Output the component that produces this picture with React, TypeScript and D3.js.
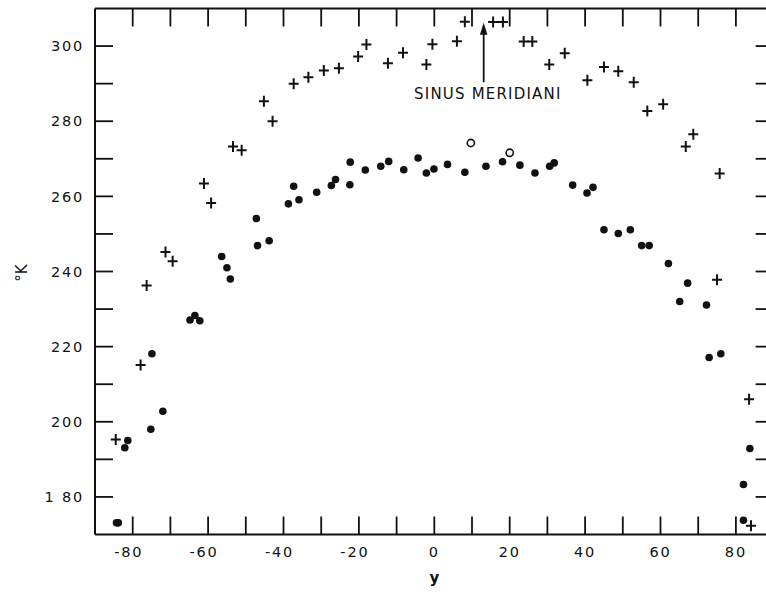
import React from 'react';
import * as d3 from 'd3';

// latitude (deg) vs brightness temperature (K)
const crossLat = [-84.5, -77.9, -76.3, -71.3, -69.4, -61.1, -59.2, -53.4, -51.1, -45.2, -42.9, -37.3, -33.4, -29.3, -25.3, -20.2, -18.0, -12.3, -8.3, -2.1, -0.5, 6.0, 8.1, 15.6, 18.2, 23.7, 26.0, 30.5, 34.6, 40.6, 45.0, 48.8, 52.9, 56.5, 60.7, 66.7, 68.7, 75.7, 75.0, 83.5, 84.0];
const crossTemp = [195.3, 215.1, 236.3, 245.2, 242.7, 263.4, 258.2, 273.3, 272.3, 285.3, 280, 290, 291.7, 293.5, 294.1, 297.2, 300.4, 295.4, 298.2, 295.1, 300.5, 301.3, 306.5, 306.4, 306.4, 301.2, 301.2, 295.1, 298.1, 290.9, 294.4, 293.3, 290.4, 282.7, 284.5, 273.3, 276.5, 266.1, 237.8, 206, 172.3];

const dotLat = [-84.3, -83.8, -82.1, -81.3, -75.2, -72.0, -74.9, -64.8, -63.5, -62.2, -56.4, -55.0, -54.1, -47.2, -46.9, -43.8, -38.7, -37.3, -35.9, -31.2, -27.3, -26.2, -22.3, -22.4, -18.3, -14.2, -12.1, -8.1, -4.3, -2.1, -0.1, 3.5, 8.1, 13.7, 18.1, 22.7, 26.7, 30.6, 31.8, 36.7, 40.5, 42.1, 45.0, 48.8, 52.0, 55.0, 57.0, 62.1, 67.2, 65.1, 72.2, 72.9, 76.0, 83.7, 82.0, 82.0];
const dotTemp = [173.1, 173.1, 193.1, 195, 198, 202.8, 218.1, 227.1, 228.3, 226.9, 244, 241, 238, 254.1, 246.9, 248.2, 258, 262.7, 259.1, 261.1, 262.9, 264.5, 269.1, 263.1, 267, 268, 269.3, 267.1, 270.2, 266.2, 267.3, 268.5, 266.4, 268, 269.2, 268.3, 266.2, 268, 268.9, 263, 260.9, 262.4, 251.1, 250.1, 251.1, 246.9, 246.9, 242.1, 236.9, 232, 231.1, 217.1, 218.1, 192.9, 183.3, 173.8];

const openLat = [9.7, 20.0];
const openTemp = [274.2, 271.6];

const xTickValues = [-80, -70, -60, -50, -40, -30, -20, -10, 0, 10, 20, 30, 40, 50, 60, 70, 80];
const xLabelValues = [-80, -60, -40, -20, 0, 20, 40, 60, 80];
const xTickLabels = ['-80', '-60', '-40', '-20', '0', '20', '40', '60', '80'];
const yTickValues = [180, 190, 200, 210, 220, 230, 240, 250, 260, 270, 280, 290, 300];
const yLabelValues = [180, 200, 220, 240, 260, 280, 300];
const yTickLabels = ['1 80', '200', '220', '240', '260', '280', '300'];

const annotation = 'SINUS MERIDIANI';
const arrowLat = 13.1;
const arrowFrom = 290.4;
const arrowTo = 306.2;
const annotationLat = 14.2;
const annotationTemp = 285.9;

const FONT = '"DejaVu Sans", sans-serif';
const INK = '#111';

export default function App() {
  const width = 766;
  const height = 592;
  const x = d3.scaleLinear().domain([-90, 90]).range([95, 773.6]);
  const y = d3.scaleLinear().domain([170, 310]).range([534.5, 8.5]);
  const [x0, x1] = x.range();
  const [yb, yt] = y.range();
  const tick = 18;

  return (
    <svg
      width={width}
      height={height}
      style={{ position: 'absolute', left: 0, top: 0, background: '#fff' }}
      fontFamily={FONT}
    >
      <rect width={width} height={height} fill="#fff" />
      {/* frame */}
      <g stroke={INK} strokeWidth={2} fill="none">
        <line x1={x0} x2={x1} y1={yt} y2={yt} />
        <line x1={x0} x2={x1} y1={yb} y2={yb} />
        <line x1={x0} x2={x0} y1={yt} y2={yb} />
        <line x1={x1} x2={x1} y1={yt} y2={yb} />
      </g>
      <g stroke={INK} strokeWidth={1.8}>
        {xTickValues.map((v) => (
          <g key={`xt${v}`}>
            <line x1={x(v)} x2={x(v)} y1={yt} y2={yt + tick} />
            <line x1={x(v)} x2={x(v)} y1={yb} y2={yb - tick} />
          </g>
        ))}
        {yTickValues.map((v) => (
          <g key={`yt${v}`}>
            <line x1={x0} x2={x0 + tick} y1={y(v)} y2={y(v)} />
            <line x1={x1} x2={x1 - tick} y1={y(v)} y2={y(v)} />
          </g>
        ))}
      </g>
      <g fill={INK} style={{ fontSize: '14.5px', letterSpacing: '1.8px' }}>
        {xLabelValues.map((v, i) => (
          <text key={`xl${v}`} x={x(v) - (v < 0 ? 4 : 0)} y={557} textAnchor="middle">
            {xTickLabels[i]}
          </text>
        ))}
        {yLabelValues.map((v, i) => (
          <text key={`yl${v}`} x={84} y={y(v)} dy="0.36em" textAnchor="end">
            {yTickLabels[i]}
          </text>
        ))}
      </g>
      <text x={x(0)} y={583} textAnchor="middle" fontSize={15} fontWeight="bold" fill={INK}>
        y
      </text>
      <text
        transform={`translate(22,273) rotate(-90)`}
        textAnchor="middle"
        dy="0.36em"
        fontSize={15}
        fill={INK}
      >
        °K
      </text>

      {/* annotation */}
      <line
        x1={x(arrowLat)}
        x2={x(arrowLat)}
        y1={y(arrowFrom)}
        y2={y(arrowTo) + 10}
        stroke={INK}
        strokeWidth={1.8}
      />
      <path
        d={`M${x(arrowLat)},${y(arrowTo)} L${x(arrowLat) - 3.8},${y(arrowTo) + 12} L${x(arrowLat) + 3.8},${y(arrowTo) + 12} Z`}
        fill={INK}
      />
      <text
        x={x(annotationLat)}
        y={y(annotationTemp)}
        textAnchor="middle"
        fontSize={15}
        letterSpacing={1.2}
        fill={INK}
      >
        {annotation}
      </text>

      {/* data */}
      <g stroke={INK} strokeWidth={2}>
        {crossLat.map((v, i) => {
          const cx = x(v);
          const cy = y(crossTemp[i]);
          return (
            <path key={`c${i}`} d={`M${cx - 5},${cy}H${cx + 5}M${cx},${cy - 5.5}V${cy + 5.5}`} />
          );
        })}
      </g>
      <g fill={INK}>
        {dotLat.map((v, i) => (
          <circle key={`d${i}`} cx={x(v)} cy={y(dotTemp[i])} r={3.8} />
        ))}
      </g>
      <g fill="#fff" stroke={INK} strokeWidth={1.6}>
        {openLat.map((v, i) => (
          <circle key={`o${i}`} cx={x(v)} cy={y(openTemp[i])} r={3.6} />
        ))}
      </g>
    </svg>
  );
}
